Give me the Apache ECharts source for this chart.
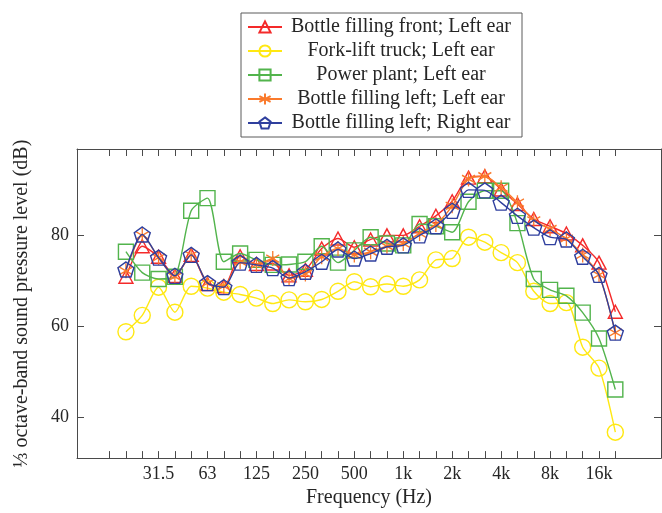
<!DOCTYPE html>
<html>
<head>
<meta charset="utf-8">
<script src="https://cdn.jsdelivr.net/npm/echarts@6/dist/echarts.min.js"></script>
<style>
html,body{margin:0;padding:0;background:#fff;}
#chart{width:662px;height:513px;}
</style>
</head>
<body>
<div id="chart"></div>
<script>
// 1/3-octave band centre frequencies (x positions are band indices)
const bands = ['20','25','31.5','40','50','63','80','100','125','160','200','250','315','400','500','630','800','1k','1.25k','1.6k','2k','2.5k','3.15k','4k','5k','6.3k','8k','10k','12.5k','16k','20k'];
const tickLabels = ['31.5','63','125','250','500','1k','2k','4k','8k','16k'];
const yTicks = [40, 60, 80];

const seriesNames = [
  'Bottle filling front; Left ear',
  'Fork-lift truck; Left ear',
  'Power plant; Left ear',
  'Bottle filling left; Left ear',
  'Bottle filling left; Right ear'
];

const bottleFrontLeft = [70.9, 77.6, 75.3, 71.1, 75.7, 69.3, 68.8, 75.4, 73.7, 73.8, 71.2, 72.4, 77.1, 79.3, 77.4, 79.1, 80.0, 80.0, 82.0, 84.3, 87.5, 92.7, 93.0, 90.1, 86.9, 83.6, 82.0, 80.4, 77.8, 74.0, 63.2];
const forkLiftLeft    = [58.8, 62.4, 68.6, 63.1, 68.8, 68.4, 67.5, 67.0, 66.2, 65.0, 65.8, 65.4, 65.9, 67.7, 69.8, 68.7, 69.3, 68.8, 70.2, 74.6, 74.9, 79.6, 78.5, 76.2, 74.0, 67.7, 65.0, 65.2, 55.4, 50.8, 36.7];
const powerPlantLeft  = [76.4, 71.8, 70.4, 70.9, 85.4, 88.2, 74.2, 76.0, 74.6, 73.5, 73.6, 74.2, 77.6, 74.0, 76.7, 79.6, 78.2, 77.8, 82.5, 82.0, 80.7, 87.4, 89.8, 89.8, 82.7, 70.4, 68.0, 66.7, 63.0, 57.3, 46.1];
const bottleLeftLeft  = [72.2, 80.0, 75.1, 70.9, 75.7, 69.5, 68.8, 74.2, 73.5, 74.9, 70.5, 71.5, 75.3, 77.1, 75.7, 76.4, 77.6, 78.2, 80.4, 82.4, 86.5, 92.4, 93.0, 90.5, 87.2, 83.3, 81.4, 79.3, 75.7, 71.3, 58.6];
const bottleLeftRight = [72.5, 80.2, 75.1, 71.1, 75.7, 69.5, 68.6, 74.0, 73.5, 72.8, 70.6, 72.0, 74.2, 76.9, 74.9, 76.0, 77.5, 77.8, 80.0, 82.0, 85.4, 90.0, 89.9, 87.2, 84.3, 81.7, 79.6, 79.1, 75.3, 71.3, 58.6];

const seriesValues = [bottleFrontLeft, forkLiftLeft, powerPlantLeft, bottleLeftLeft, bottleLeftRight];
const colors = ['#f42a2a', '#ffe812', '#52b44c', '#fa7a2c', '#2f3f9e'];
const symbols = [
  'triangle',
  'circle',
  'rect',
  'path://M0,-10L0,10M-8.66,-5L8.66,5M-8.66,5L8.66,-5',
  'path://M0,-10L9.51,-3.09L5.88,8.09L-5.88,8.09L-9.51,-3.09Z'
];
const symbolSizes = [[14, 13], 16, 15, [13, 15], [16, 15]];

const FONT = '"Liberation Serif", "DejaVu Serif", serif';
const TXT = '#262626';
const AX = '#4a4a4a';

const minorTicks = [];
for (let i = -1; i < bands.length; i++) minorTicks.push(i);
const labelValues = tickLabels.map(l => bands.indexOf(l));

const xBase = {
  type: 'value', min: -3, max: 32.8,
  splitLine: {show: false},
  axisLine: {show: true, onZero: false, lineStyle: {color: AX, width: 1}},
  axisTick: {show: true, inside: true, length: 7, customValues: minorTicks, lineStyle: {color: AX}}
};
const yBase = {
  type: 'value', min: 31, max: 99,
  splitLine: {show: false},
  axisLine: {show: true, onZero: false, lineStyle: {color: AX, width: 1}},
  axisTick: {show: true, inside: true, length: 7, customValues: yTicks, lineStyle: {color: AX}}
};

const chart = echarts.init(document.getElementById('chart'), null, {renderer: 'canvas'});
chart.setOption({
  animation: false,
  backgroundColor: '#fff',
  grid: {left: 77, right: 1, top: 149, bottom: 53, containLabel: false},
  xAxis: [
    Object.assign({}, xBase, {
      position: 'bottom',
      name: 'Frequency (Hz)', nameLocation: 'middle', nameGap: 28,
      nameTextStyle: {fontFamily: FONT, fontSize: 20, color: TXT},
      axisLabel: {show: true, customValues: labelValues, margin: 7,
        fontFamily: FONT, fontSize: 18, color: TXT,
        formatter: v => bands[Math.round(v)] || ''}
    }),
    Object.assign({}, xBase, {position: 'top', axisLabel: {show: false}})
  ],
  yAxis: [
    Object.assign({}, yBase, {
      position: 'left',
      name: '\u2153 octave-band sound pressure level (dB)', nameLocation: 'middle', nameGap: 45,
      nameTextStyle: {fontFamily: FONT, fontSize: 20, color: TXT},
      axisLabel: {show: true, customValues: yTicks, margin: 8,
        fontFamily: FONT, fontSize: 18, color: TXT}
    }),
    Object.assign({}, yBase, {position: 'right', axisLabel: {show: false}})
  ],
  legend: {
    orient: 'vertical', left: 241, top: 13,
    padding: [4, 7, 4, 6], itemGap: 4, itemWidth: 34, itemHeight: 14,
    backgroundColor: '#fff', borderColor: '#5a5a5a', borderWidth: 1, borderRadius: 0,
    selectedMode: false,
    data: seriesNames,
    formatter: n => '{c|' + n + '}',
    textStyle: {fontFamily: FONT, fontSize: 20, color: TXT, lineHeight: 20,
      rich: {c: {width: 228, align: 'center', fontFamily: FONT, fontSize: 20, color: TXT, lineHeight: 20}}}
  },
  series: seriesNames.map((name, k) => ({
    name: name,
    type: 'line',
    xAxisIndex: 0, yAxisIndex: 0,
    data: seriesValues[k].map((v, i) => [i, v]),
    smooth: 0.25,
    symbol: symbols[k],
    symbolSize: symbolSizes[k],
    showAllSymbol: true,
    lineStyle: {color: colors[k], width: 1.4},
    itemStyle: {color: 'rgba(0,0,0,0)', borderColor: colors[k], borderWidth: 1.4},
    emphasis: {disabled: true},
    z: 2 + k
  }))
});
</script>
</body>
</html>
